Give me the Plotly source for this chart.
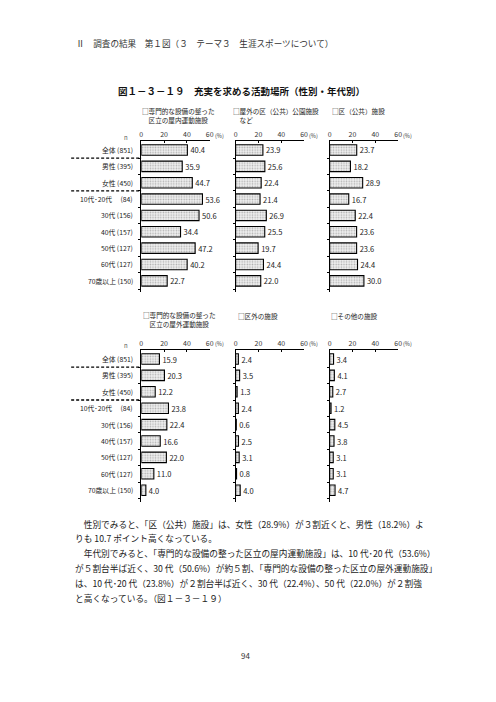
import plotly.graph_objects as go

W, H = 496, 702

categories = ["全体 (851)", "男性 (395)", "女性 (450)", "10代･20代　 (84)", "30代 (156)",
              "40代 (157)", "50代 (127)", "60代 (127)", "70歳以上 (150)"]
indoor = [40.4, 35.9, 44.7, 53.6, 50.6, 34.4, 47.2, 40.2, 22.7]
park = [23.9, 25.6, 22.4, 21.4, 26.9, 25.5, 19.7, 24.4, 22.0]
ward = [23.7, 18.2, 28.9, 16.7, 22.4, 23.6, 23.6, 24.4, 30.0]
outdoor = [15.9, 20.3, 12.2, 23.8, 22.4, 16.6, 22.0, 11.0, 4.0]
outside_ward = [2.4, 3.5, 1.3, 2.4, 0.6, 2.5, 3.1, 0.8, 4.0]
other = [3.4, 4.1, 2.7, 1.2, 4.5, 3.8, 3.1, 3.1, 4.7]
tick_values = [0, 20, 40, 60]
tick_labels = ["0", "20", "40", "60"]

header = "Ⅱ　調査の結果　第１図（３　テーマ３　生涯スポーツについて）"
title = "図１－３－１９　充実を求める活動場所（性別・年代別）"
paragraph = [
    "　性別でみると、「区（公共）施設」は、女性（28.9%）が３割近くと、男性（18.2%）よ",
    "りも 10.7 ポイント高くなっている。",
    "　年代別でみると、「専門的な設備の整った区立の屋内運動施設」は、10 代･20 代（53.6%）",
    "が５割台半ば近く、30 代（50.6%）が約５割、「専門的な設備の整った区立の屋外運動施設」",
    "は、10 代･20 代（23.8%）が２割台半ば近く、30 代（22.4%）、50 代（22.0%）が２割強",
    "と高くなっている。（図１－３－１９）",
]
page_no = "94"

FONT = "Noto Sans CJK JP"


def px(x):
    return x / W


def py(y):
    return 1 - y / H


series = [indoor, park, ward, outdoor, outside_ward, other]
col_x = [(141, 210.3), (236.5, 305.8), (331.7, 401.0)]
row_y = [(141, 292.3), (350, 501.7)]

fig = go.Figure()
layout = {}
for k, vals in enumerate(series):
    r, c = divmod(k, 3)
    idx = k + 1
    xa = "x" if idx == 1 else f"x{idx}"
    ya = "y" if idx == 1 else f"y{idx}"
    fig.add_trace(go.Bar(
        x=vals, y=list(range(len(categories))), orientation="h",
        xaxis=xa, yaxis=ya, width=0.64,
        marker=dict(color="#eeeeee", line=dict(color="black", width=1.1),
                    pattern=dict(shape=".", fgcolor="#707070", bgcolor="#f0f0f0",
                                 size=2.6, solidity=0.3)),
        text=[f"{v:.1f}" for v in vals], textposition="outside",
        textfont=dict(size=7.5, color="#222", family=FONT),
        constraintext="none", cliponaxis=False, showlegend=False, hoverinfo="skip",
    ))
    x0, x1 = col_x[c]
    y0, y1 = row_y[r]
    layout["xaxis" if idx == 1 else f"xaxis{idx}"] = dict(
        domain=[px(x0), px(x1)], range=[0, 60], side="top", anchor=ya,
        tickvals=tick_values, ticktext=tick_labels, ticks="inside", ticklen=2,
        tickcolor="black", showline=True, linecolor="black", linewidth=1.2,
        showgrid=False, zeroline=False, tickfont=dict(size=7, color="#333", family=FONT),
        fixedrange=True)
    layout["yaxis" if idx == 1 else f"yaxis{idx}"] = dict(
        domain=[py(y1), py(y0)], range=[8.7, -0.55], anchor=xa,
        tickvals=[i + 0.5 for i in range(len(categories))], ticktext=[""] * len(categories),
        ticks="outside", ticklen=2, tickcolor="black", showline=True, linecolor="black",
        linewidth=1, showgrid=False, zeroline=False, fixedrange=True)

annotations = []
shapes = []


def txt(x, y, s, size, xanchor="left", yanchor="middle", color="#222", align="left", bold=False, xref="paper", yref="paper"):
    annotations.append(dict(x=x, y=y, xref=xref, yref=yref, text=f"<b>{s}</b>" if bold else s,
                            showarrow=False, xanchor=xanchor, yanchor=yanchor, align=align,
                            font=dict(size=size, color=color, family=FONT)))


txt(px(73), py(43), header, 8.6, color="#333")
txt(px(242), py(91), title, 9.5, xanchor="center", bold=True, color="#111")

# panel titles
txt(px(178.5), py(115.5), "□専門的な設備の整った<br>区立の屋内運動施設", 6.6, xanchor="center", align="center")
txt(px(232), py(115.5), "□屋外の区（公共）公園施設<br>　など", 6.6)
txt(px(332), py(111.5), "□区（公共）施設", 6.6)
txt(px(179.5), py(319.5), "□専門的な設備の整った<br>区立の屋外運動施設", 6.6, xanchor="center", align="center")
txt(px(237), py(316.5), "□区外の施設", 6.6)
txt(px(331.5), py(316.5), "□その他の施設", 6.6)

for r, (y0, y1) in enumerate(row_y):
    ya = "y" if r == 0 else "y4"
    # n label
    txt(px(126), py(y0 - 4), "n", 6, xanchor="center", color="#555")
    # (%) labels
    for c in range(3):
        xa = f"x{r * 3 + c + 1}" if r * 3 + c > 0 else "x"
        annotations.append(dict(x=60, y=py(y0 - 5.5), xref=xa, yref="paper", text="(%)",
                                showarrow=False, xanchor="left", yanchor="middle", xshift=3,
                                font=dict(size=5.5, color="#333", family=FONT)))
    for i, cat in enumerate(categories):
        annotations.append(dict(x=px(135), y=i, xref="paper", yref=ya, text=cat, showarrow=False,
                                xanchor="right", yanchor="middle",
                                font=dict(size=6.8, color="#222", family=FONT)))
    for b in (0.5, 2.5):
        shapes.append(dict(type="line", xref="paper", yref=ya, x0=px(70), x1=px(141), y0=b, y1=b,
                           line=dict(color="black", width=1.3, dash="3px,2px")))

for j, line in enumerate(paragraph):
    txt(px(72), py(524 + 14.8 * j), line, 8.7, color="#222")

txt(px(246), py(655), page_no, 8, xanchor="center", color="#333")

fig.update_layout(
    width=W, height=H, margin=dict(l=0, r=0, t=0, b=0),
    paper_bgcolor="white", plot_bgcolor="rgba(0,0,0,0)",
    bargap=0.36, annotations=annotations, shapes=shapes,
    font=dict(family=FONT), **layout,
)

fig.write_html("out.html", config={"displayModeBar": False, "staticPlot": True},
               post_script="document.body.style.margin='0';")
